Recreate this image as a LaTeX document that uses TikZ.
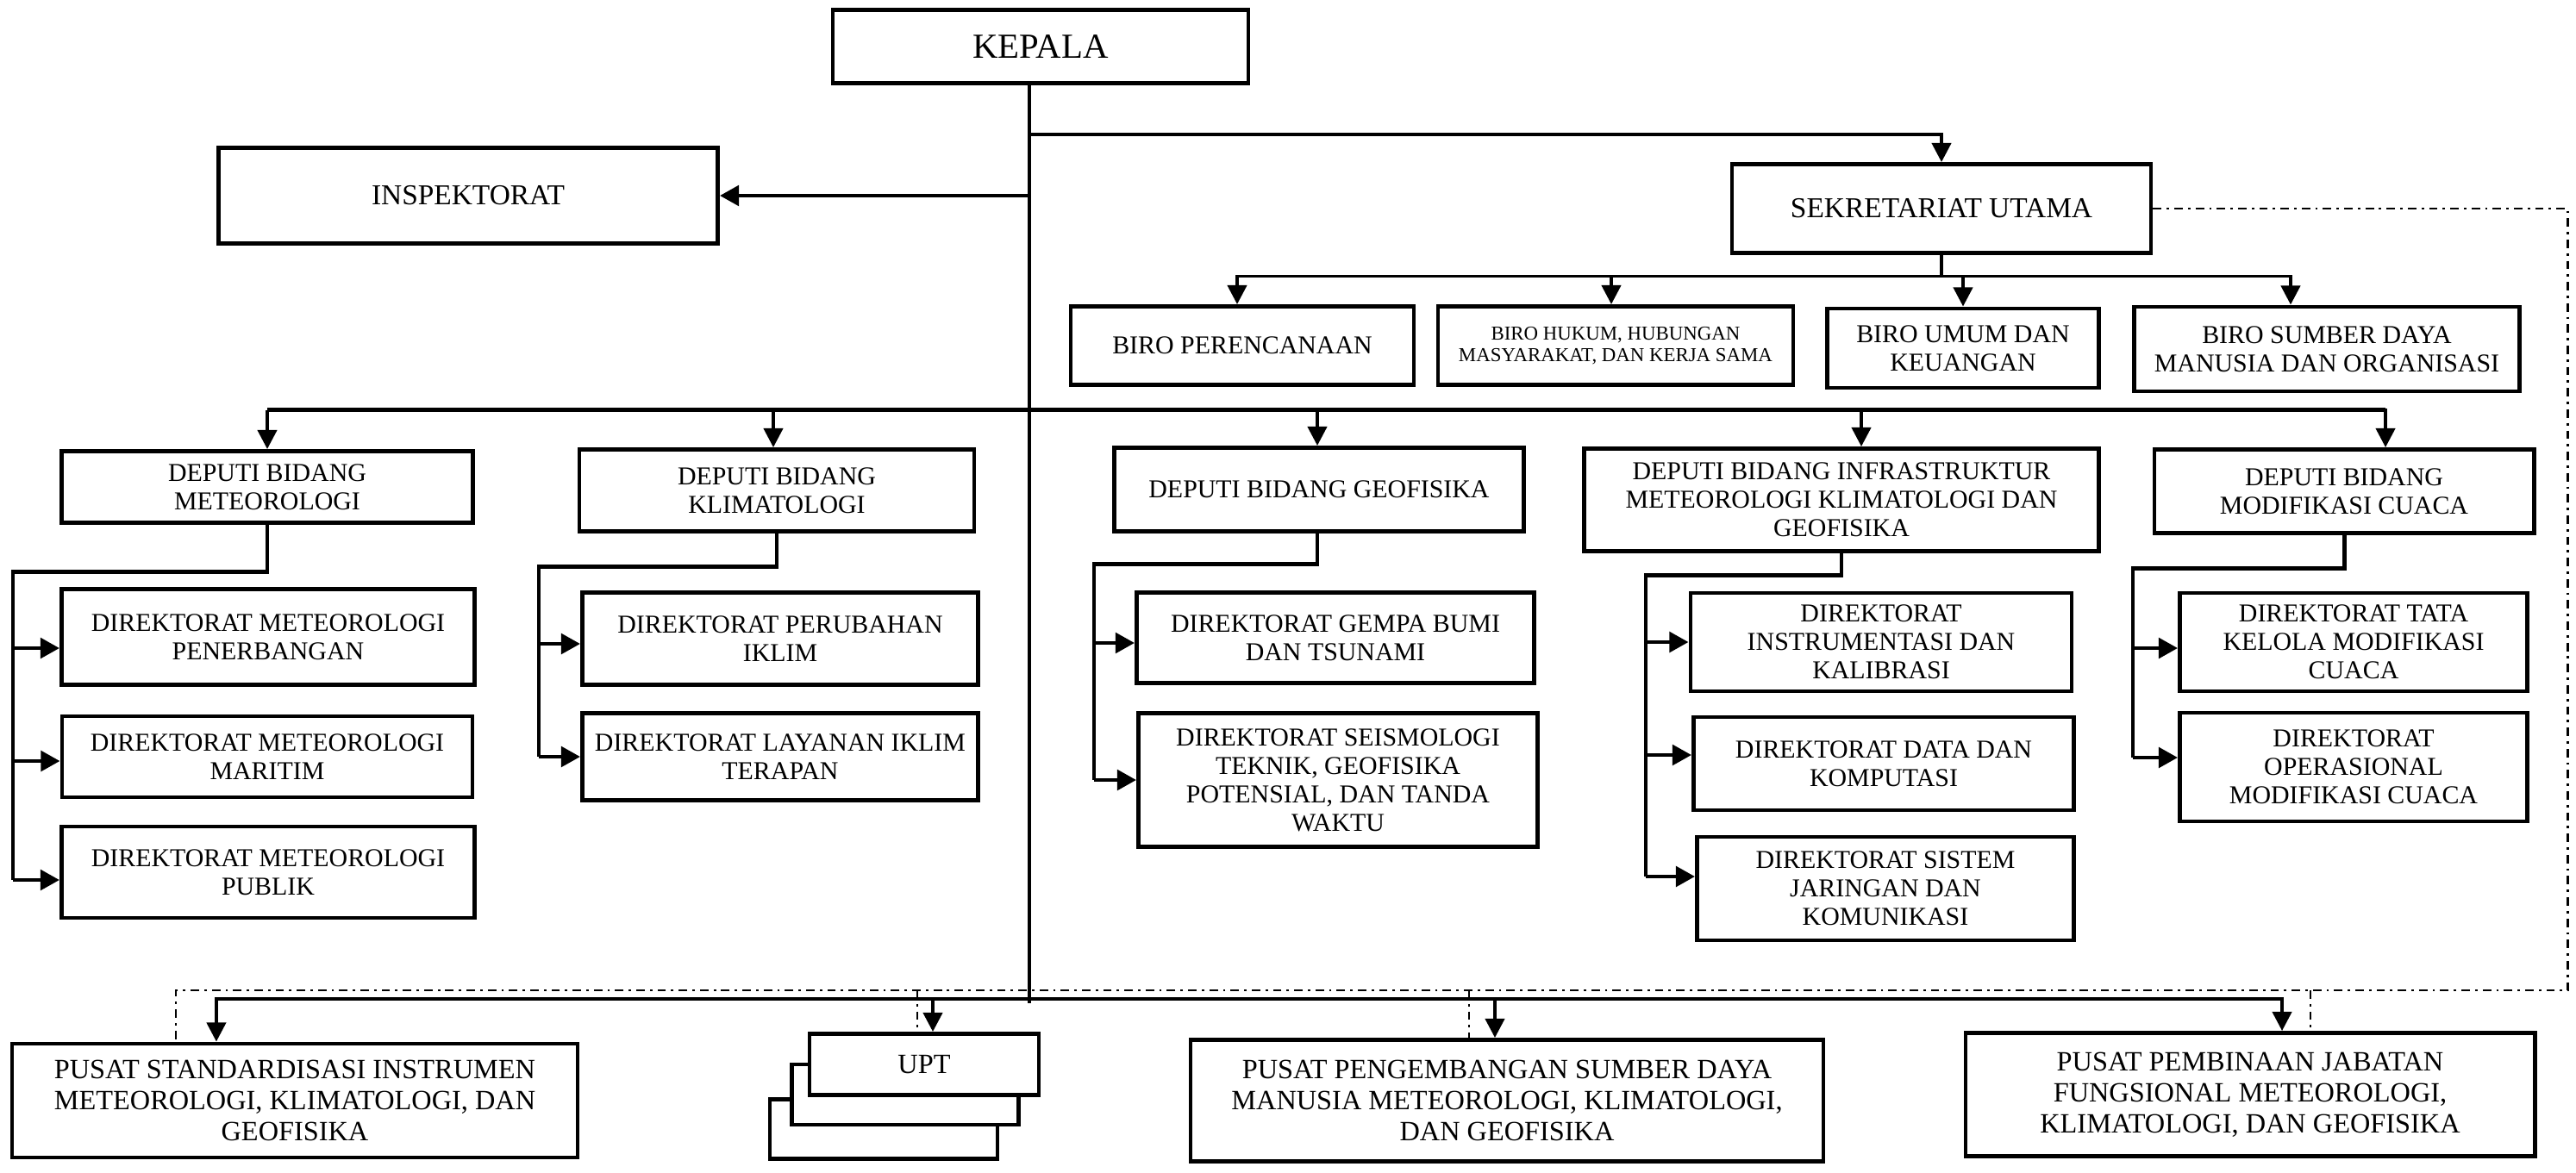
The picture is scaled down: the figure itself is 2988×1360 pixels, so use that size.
\documentclass[tikz,border=0pt]{standalone}
\usepackage{fontspec}
\setmainfont{Liberation Serif}
\usetikzlibrary{arrows.meta}

\tikzset{
  orgbox/.style 2 args={draw, line width=1.4pt, fill=white, align=center, inner sep=2pt,
    minimum width=#1*0.01cm, minimum height=#2*0.01cm, font=\fontsize{8.5}{9.4}\selectfont},
  wide/.style={font=\fontsize{9.2}{10.2}\selectfont},
  link/.style={line width=1.4pt},
  drop/.style={line width=1.1pt, -{Triangle[length=6.3pt,width=6.3pt]}},
  arr/.style={line width=1.4pt, -{Triangle[length=6.3pt,width=6.6pt]}},
  liaison/.style={line width=0.65pt, dash pattern=on 2.8pt off 1.7pt on 0.8pt off 1.7pt},
}

\begin{document}
\begin{tikzpicture}[x=0.01cm, y=-0.01cm]
\useasboundingbox (0,0) rectangle (2988,1360);

% pimpinan
\node[orgbox={482}{85}, font=\fontsize{11.6}{13}\selectfont] (kepala) at (1207,54) {KEPALA};
\node[orgbox={579}{111}, font=\fontsize{9.5}{10.5}\selectfont] (inspektorat) at (543,227) {INSPEKTORAT};
\node[orgbox={486}{103}, font=\fontsize{9.5}{10.5}\selectfont] (sekretariat) at (2252,242) {SEKRETARIAT UTAMA};

% biro
\node[orgbox={398}{91}] (biro1) at (1441,401) {BIRO PERENCANAAN};
\node[orgbox={412}{91}, font=\fontsize{6.5}{7.2}\selectfont] (biro2) at (1874,401) {BIRO HUKUM, HUBUNGAN\\MASYARAKAT, DAN KERJA SAMA};
\node[orgbox={315}{92}] (biro3) at (2277,404) {BIRO UMUM DAN\\KEUANGAN};
\node[orgbox={447}{98}] (biro4) at (2699,405) {BIRO SUMBER DAYA\\MANUSIA DAN ORGANISASI};

% deputi
\node[orgbox={477}{83}] (dep1) at (310,565) {DEPUTI BIDANG\\METEOROLOGI};
\node[orgbox={458}{95}] (dep2) at (901,569) {DEPUTI BIDANG\\KLIMATOLOGI};
\node[orgbox={475}{97}] (dep3) at (1530,568) {DEPUTI BIDANG GEOFISIKA};
\node[orgbox={597}{119}] (dep4) at (2136,580) {DEPUTI BIDANG INFRASTRUKTUR\\METEOROLOGI KLIMATOLOGI DAN\\GEOFISIKA};
\node[orgbox={440}{97}] (dep5) at (2719,570) {DEPUTI BIDANG\\MODIFIKASI CUACA};

% direktorat
\node[orgbox={479}{111}] (d11) at (311,739) {DIREKTORAT METEOROLOGI\\PENERBANGAN};
\node[orgbox={476}{94}] (d12) at (310,878) {DIREKTORAT METEOROLOGI\\MARITIM};
\node[orgbox={479}{106}] (d13) at (311,1012) {DIREKTORAT METEOROLOGI\\PUBLIK};
\node[orgbox={459}{107}] (d21) at (905,741) {DIREKTORAT PERUBAHAN\\IKLIM};
\node[orgbox={459}{101}] (d22) at (905,878) {DIREKTORAT LAYANAN IKLIM\\TERAPAN};
\node[orgbox={461}{105}] (d31) at (1549,740) {DIREKTORAT GEMPA BUMI\\DAN TSUNAMI};
\node[orgbox={463}{155}] (d32) at (1552,905) {DIREKTORAT SEISMOLOGI\\TEKNIK, GEOFISIKA\\POTENSIAL, DAN TANDA\\WAKTU};
\node[orgbox={442}{114}] (d41) at (2182,745) {DIREKTORAT\\INSTRUMENTASI DAN\\KALIBRASI};
\node[orgbox={441}{108}] (d42) at (2185,886) {DIREKTORAT DATA DAN\\KOMPUTASI};
\node[orgbox={437}{120}] (d43) at (2187,1031) {DIREKTORAT SISTEM\\JARINGAN DAN\\KOMUNIKASI};
\node[orgbox={403}{114}] (d51) at (2730,745) {DIREKTORAT TATA\\KELOLA MODIFIKASI\\CUACA};
\node[orgbox={403}{126}] (d52) at (2730,890) {DIREKTORAT\\OPERASIONAL\\MODIFIKASI CUACA};

% pusat dan upt
\node[orgbox={656}{132}, wide] (p1) at (342,1277) {PUSAT STANDARDISASI INSTRUMEN\\METEOROLOGI, KLIMATOLOGI, DAN\\GEOFISIKA};
\node[orgbox={264}{69}] (upt3) at (1025,1310) {};
\node[orgbox={263}{70}] (upt2) at (1050,1270) {};
\node[orgbox={266}{71}, wide] (upt) at (1072,1235) {UPT};
\node[orgbox={734}{141}, wide] (p2) at (1748,1277) {PUSAT PENGEMBANGAN SUMBER DAYA\\MANUSIA METEOROLOGI, KLIMATOLOGI,\\DAN GEOFISIKA};
\node[orgbox={660}{143}, wide] (p3) at (2610,1270) {PUSAT PEMBINAAN JABATAN\\FUNGSIONAL METEOROLOGI,\\KLIMATOLOGI, DAN GEOFISIKA};

% garis komando
\draw[link] ([xshift=-0.13cm]kepala.south) -- ++(0,1065) coordinate (kfoot);
\draw[arr] (kfoot |- inspektorat.east) -- (inspektorat.east);
\draw[drop] ([xshift=-0.13cm]kepala.south) ++(0,57) -| (sekretariat.north);

\foreach \b/\s in {biro1/-0.06, biro2/-0.05, biro3/0, biro4/-0.42}
  \draw[drop] (sekretariat.south) -- ++(0,24.5) -| ([xshift=\s cm]\b.north);

\coordinate (dbus) at ([yshift=0.455cm]dep1.north);
\draw[link] (dbus) -- ([xshift=0.48cm]dep5.north |- dbus);
\foreach \d/\s in {dep1/0, dep2/-0.04, dep3/-0.02, dep4/0.23, dep5/0.48}
  \draw[drop] (dbus) -| ([xshift=\s cm]\d.north);

\draw[link] (dep1.south) -- ++(0,54.5) -- ++(-295,0) coordinate (t1) -- ([yshift=-0.09cm]t1 |- d13.west);
\draw[link] (dep2.south) -- ++(0,38.5) -- ++(-276,0) coordinate (t2) -- (t2 |- d22.west);
\draw[link] ([xshift=-0.02cm]dep3.south) -- ++(0,35.5) -- ++(-259,0) coordinate (t3) -- (t3 |- d32.west);
\draw[link] (dep4.south) -- ++(0,25.5) -- ++(-227,0) coordinate (t4) -- ([yshift=0.14cm]t4 |- d43.west);
\draw[link] (dep5.south) -- ++(0,38.5) -- ++(-245,0) coordinate (t5) -- ([yshift=0.11cm]t5 |- d52.west);

\foreach \d/\s in {d11/-0.13, d12/-0.05, d13/-0.09}
  \draw[arr] ([yshift=\s cm]t1 |- \d.west) -- ([yshift=\s cm]\d.west);
\foreach \d/\s in {d21/-0.06, d22/0}
  \draw[arr] ([yshift=\s cm]t2 |- \d.west) -- ([yshift=\s cm]\d.west);
\foreach \d/\s in {d31/-0.06, d32/0}
  \draw[arr] ([yshift=\s cm]t3 |- \d.west) -- ([yshift=\s cm]\d.west);
\foreach \d/\s in {d41/0, d42/0.10, d43/0.14}
  \draw[arr] ([yshift=\s cm]t4 |- \d.west) -- ([yshift=\s cm]\d.west);
\foreach \d/\s in {d51/-0.07, d52/0.11}
  \draw[arr] ([yshift=\s cm]t5 |- \d.west) -- ([yshift=\s cm]\d.west);

\coordinate (pbus) at ([yshift=0.05cm]kfoot);
\draw[link] ([xshift=-0.91cm]p1.north |- pbus) -- ([xshift=0.37cm]p3.north |- pbus);
\foreach \p/\s in {p1/-0.91, upt/0.10, p2/-0.14, p3/0.37}
  \draw[drop] (pbus) -| ([xshift=\s cm]\p.north);

% garis koordinasi
\draw[liaison] (sekretariat.east) -- ++(481,0) -- ++(0,907) coordinate (lbus) -| ([xshift=-1.38cm]p1.north);
\foreach \p/\s in {upt/-0.08, p2/-0.44, p3/0.70}
  \draw[liaison] ([xshift=\s cm]\p.north |- lbus) -- ([xshift=\s cm]\p.north);
\end{tikzpicture}
\end{document}
